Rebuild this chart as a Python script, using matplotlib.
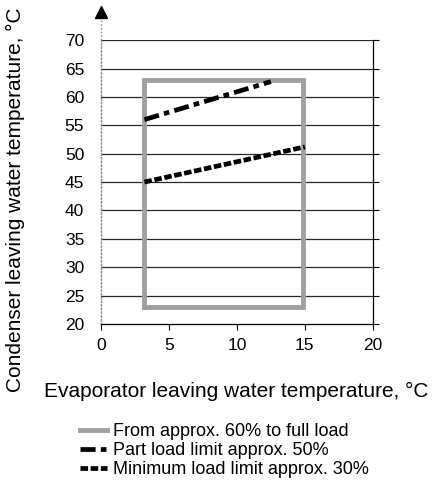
import matplotlib.pyplot as plt
from matplotlib.lines import Line2D

plt.rcParams['font.family'] = ['Liberation Sans', 'DejaVu Sans']

# operating envelope (full load), corners
env_x = [3.2, 14.9, 14.9, 3.2, 3.2]
env_y = [23, 23, 63, 63, 23]
# part load limit approx. 50%
part_x = [3.2, 12.5]
part_y = [56, 62.7]
# minimum load limit approx. 30%
min_x = [3.2, 15.0]
min_y = [45, 51.2]

x_ticks = [0, 5, 10, 15, 20]
y_ticks = [20, 25, 30, 35, 40, 45, 50, 55, 60, 65, 70]

dashdot = (0, (3.2, 1.1, 1.2, 1.1))
dotted = (0, (1.6, 0.55))

fig = plt.figure(figsize=(4.35, 4.9), dpi=100)
ax = fig.add_axes([0.232, 0.339, 0.625, 0.579])

for yv in y_ticks[1:]:
    ax.axhline(yv, color='#2a2a2a', lw=0.9, zorder=1)

ax.plot(env_x, env_y, color='#a0a0a0', lw=3.5, solid_joinstyle='miter', zorder=2)
ax.plot(part_x, part_y, color='black', lw=3.4, linestyle=dashdot, zorder=3)
ax.plot(min_x, min_y, color='black', lw=3.4, linestyle=dotted, zorder=3)

ax.set_xlim(0, 20)
ax.set_ylim(20, 70)
ax.set_xticks(x_ticks)
ax.set_yticks(y_ticks)
ax.tick_params(axis='x', direction='out', length=4, width=0.8, labelsize=12.5, pad=6)
ax.tick_params(axis='y', left=False, right=True, direction='out', length=4, width=0.8,
               labelsize=12.5, labelleft=True, pad=8)

ax.spines['top'].set_visible(False)
ax.spines['left'].set_color('#888888')
ax.spines['left'].set_linestyle(':')
ax.spines['left'].set_linewidth(1.0)
ax.spines['right'].set_linewidth(0.9)
ax.spines['bottom'].set_linewidth(0.9)

# arrow on top of the y axis
ax.plot([0, 0], [70, 74], color='#888888', lw=1.0, ls=':', clip_on=False)
ax.plot([0], [75], marker='^', color='black', markersize=9, clip_on=False)

fig.text(0.036, 0.592, 'Condenser leaving water temperature, °C', rotation=90,
         ha='center', va='center', fontsize=15)
fig.text(0.543, 0.202, 'Evaporator leaving water temperature, °C',
         ha='center', va='center', fontsize=15)

handles = [
    Line2D([], [], color='#a0a0a0', lw=3.5),
    Line2D([], [], color='black', lw=3.4, linestyle=dashdot),
    Line2D([], [], color='black', lw=3.4, linestyle=dotted),
]
labels = ['From approx. 60% to full load', 'Part load limit approx. 50%',
          'Minimum load limit approx. 30%']
fig.legend(handles, labels, loc='upper left', bbox_to_anchor=(0.184, 0.137),
           frameon=False, fontsize=13, handlelength=1.5, handletextpad=0.3,
           labelspacing=0.12, borderaxespad=0, borderpad=0)

fig.savefig('out.png', dpi=100)
